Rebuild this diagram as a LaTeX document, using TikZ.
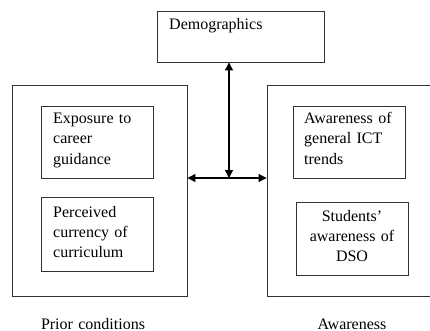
\documentclass[tikz,border=0pt]{standalone}
\usepackage{fontspec}
\setmainfont{Liberation Serif}
\usetikzlibrary{arrows.meta}
\begin{document}
\begin{tikzpicture}[x=1pt,y=-1pt,
  box/.style={draw=black!80,line width=0.9pt,inner sep=0pt},
  txt/.style={anchor=base west,inner sep=0pt,text width=110pt,align=left,font=\fontsize{16}{20}\selectfont},
  ctxt/.style={anchor=base,inner sep=0pt,text width=112pt,align=center,font=\fontsize{16}{20}\selectfont},
  link/.style={line width=1.2pt,{Triangle[length=8pt,width=8pt]}-{Triangle[length=8pt,width=8pt]}}]
\useasboundingbox (0,0) rectangle (430,331);
\clip (0,0) rectangle (430,331);
\node[box,minimum width=167pt,minimum height=51pt] (dem) at (240.5,36.5) {};
\node[box,minimum width=175pt,minimum height=211pt] (lbig) at (99.5,190.5) {};
\node[box,minimum width=193pt,minimum height=211pt] (rbig) at (363.5,190.5) {};
\node[box,minimum width=112pt,minimum height=72pt] (l1) at (97,142) {};
\node[box,minimum width=112pt,minimum height=74pt] (l2) at (97,234) {};
\node[box,minimum width=112pt,minimum height=72pt] (r1) at (349,142) {};
\node[box,minimum width=112pt,minimum height=73pt] (r2) at (352,238.5) {};
\node[txt] (tdem) at (169,30) {Demographics};
\node[txt] (tl1) at (53,124) {Exposure to\\career\\guidance};
\node[txt] (tl2) at (53,217) {Perceived\\currency of\\curriculum};
\node[txt] (tr1) at (304,124) {Awareness of\\general ICT\\trends};
\node[ctxt] (tr2) at (352,221) {Students'\\awareness of\\DSO};
\node[ctxt] (lab1) at (93,329) {Prior conditions};
\node[ctxt] (lab2) at (352,329) {Awareness};
\coordinate (j) at (229,178);
\draw[link] (lbig.east |- j) -- (rbig.west |- j);
\draw[link] (dem.south -| j) -- (j);
\end{tikzpicture}
\end{document}
